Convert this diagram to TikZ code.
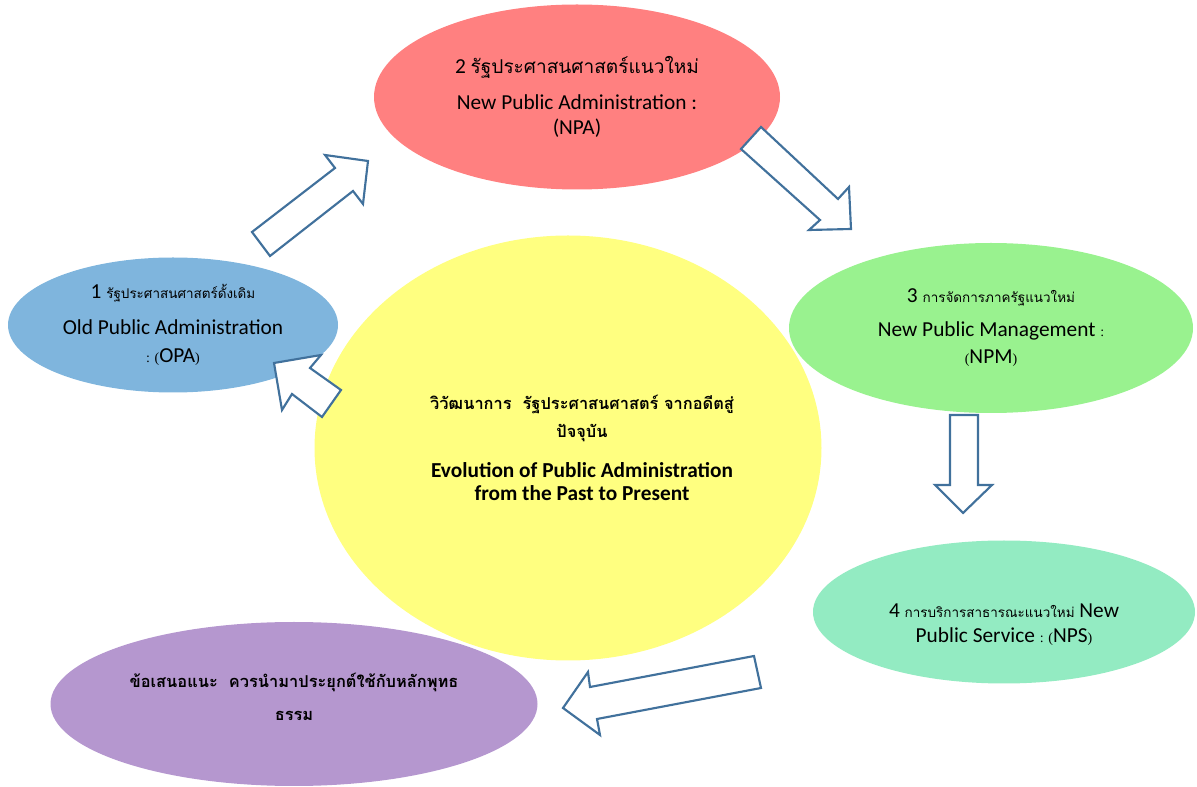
\documentclass[tikz,border=0pt]{standalone}
\usepackage{fontspec}
\setmainfont{Carlito}
\newfontfamily\thaifont[Script=Thai]{Loma}
\newfontfamily\punctfont{Liberation Serif}
\usetikzlibrary{shapes.geometric}

\definecolor{npared}{HTML}{FF8080}
\definecolor{opablue}{HTML}{7FB5DD}
\definecolor{npmgreen}{HTML}{99F28F}
\definecolor{npsmint}{HTML}{93EBC2}
\definecolor{sumpurple}{HTML}{B597CF}
\definecolor{coreyellow}{HTML}{FFFF80}
\definecolor{arrowblue}{HTML}{41719C}

\newcommand{\thsmall}[1]{{\thaifont\fontsize{10.1}{14}\selectfont #1}}
\newcommand{\thbold}[1]{{\thaifont\bfseries\fontsize{12.3}{15}\selectfont #1}}
\newcommand{\pn}[1]{{\punctfont\fontsize{10.5}{12}\selectfont #1}}

\tikzset{
  stage/.style={ellipse, draw=none, inner sep=0pt},
  stagetext/.style={align=center, inner sep=0pt, font=\fontsize{16}{18.75}\selectfont},
  blockarrow/.style={draw=arrowblue, fill=white, line width=1.6pt, line join=miter},
}

\begin{document}
\begin{tikzpicture}[x=0.75pt,y=-0.75pt]
\useasboundingbox (0,0) rectangle (1197,787);

% middle circle
\node[stage, fill=coreyellow, minimum width=380.25pt, minimum height=318.75pt] (core) at (568,448) {};
\node[stagetext] (coretext) at ([xshift=10.5pt]core.center)
  {\thbold{วิวัฒนาการ\ \ รัฐประศาสนศาสตร์ จากอดีตสู่}\\[2.25pt]
   \thbold{ปัจจุบัน}\\[11.25pt]
   \textbf{Evolution of Public Administration}\\[-1.5pt]
   \textbf{from the Past to Present}};

% the four stages
\node[stage, fill=npared, minimum width=304.5pt, minimum height=138.75pt] (npa) at (577,97) {};
\node[stagetext] (npatext) at (npa.center)
  {2 {\thaifont\fontsize{14.3}{18}\selectfont รัฐประศาสนศาสตร์แนวใหม่}\\[8pt]
   New Public Administration :\\
   (NPA)};

\node[stage, fill=opablue, minimum width=247.5pt, minimum height=101.25pt] (opa) at (173,325) {};
\node[stagetext] (opatext) at (opa.center)
  {1 \thsmall{รัฐประศาสนศาสตร์ดั้งเดิม}\\[8pt]
   Old Public Administration\\[2pt]
   \pn{: (}OPA\pn{)}};

\node[stage, fill=npmgreen, minimum width=303pt, minimum height=127.5pt] (npm) at (991,328) {};
\node[stagetext] (npmtext) at (npm.center)
  {3 \thsmall{การจัดการภาครัฐแนวใหม่}\\[6.75pt]
   New Public Management \pn{:}\\[1.5pt]
   \pn{(}NPM\pn{)}};

\node[stage, fill=npsmint, minimum width=286.5pt, minimum height=107.25pt] (nps) at (1004,612) {};
\node[stagetext] (npstext) at ([yshift=-9.4pt]nps.center)
  {4 \thsmall{การบริการสาธารณะแนวใหม่} New\\
   Public Service \pn{: (}NPS\pn{)}};

% suggestion
\node[stage, fill=sumpurple, minimum width=365.25pt, minimum height=123pt] (sum) at (294,704) {};
\node[stagetext] (sumtext) at ([yshift=5.25pt]sum.center)
  {\thbold{ข้อเสนอแนะ\ \ ควรนำมาประยุกต์ใช้กับหลักพุทธ}\\[6pt]
   \thbold{ธรรม}};

% block arrows
\draw[blockarrow] (252,232) -- (335,168) -- (325,155) -- (368,161) -- (363,204) -- (353,191) -- (270,256) -- cycle;
\draw[blockarrow] (761,127) -- (838,199) -- (849,187) -- (851,229) -- (809,230) -- (820,220) -- (741,149) -- cycle;
\draw[blockarrow] (950,415) -- (978,415) -- (978,485) -- (992,485) -- (963,513) -- (935,485) -- (950,485) -- cycle;
\draw[blockarrow] (754,656) -- (761,688) -- (597,719) -- (600,735) -- (563,708) -- (588,672) -- (590,687) -- cycle;
\draw[blockarrow] (274,363) -- (321,355) -- (310,368) -- (341,390) -- (322,417) -- (292,394) -- (282,410) -- cycle;

\end{tikzpicture}
\end{document}
